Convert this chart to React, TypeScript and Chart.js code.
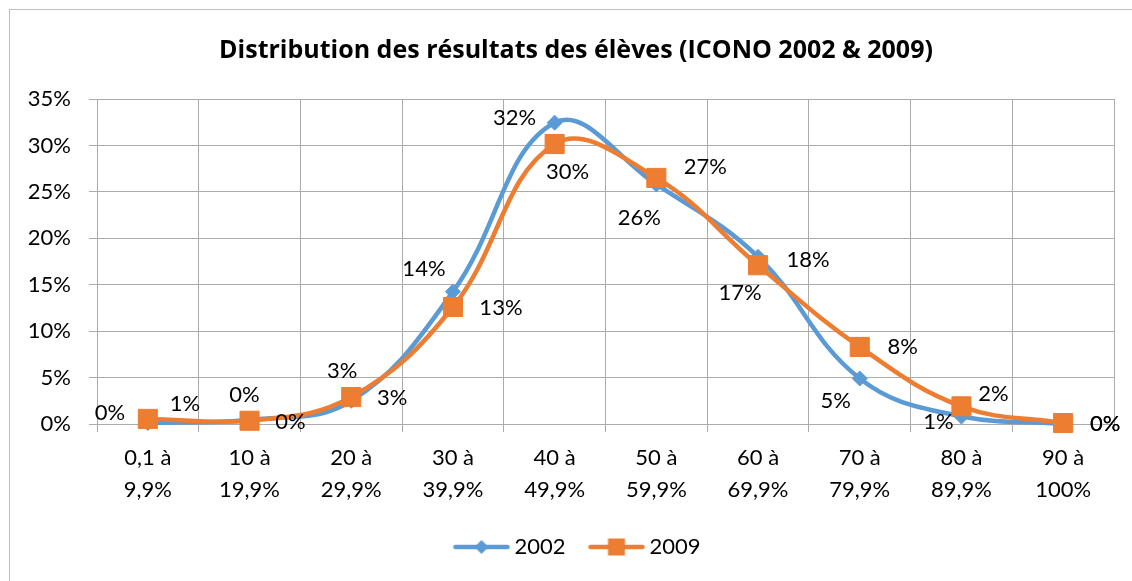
import React, { useEffect, useRef } from 'react';
import { Chart, registerables } from 'chart.js';

Chart.register(...registerables);

// ---------- data ----------
const CATEGORIES: string[][] = [
  ['0,1 à', '9,9%'],
  ['10 à', '19,9%'],
  ['20 à', '29,9%'],
  ['30 à', '39,9%'],
  ['40 à', '49,9%'],
  ['50 à', '59,9%'],
  ['60 à', '69,9%'],
  ['70 à', '79,9%'],
  ['80 à', '89,9%'],
  ['90 à', '100%'],
];
const SERIES_NAMES = ['2002', '2009'];
const VALUES_2002 = [0.1, 0.45, 2.5, 14.25, 32.45, 25.8, 18.0, 4.9, 0.8, 0.0];
const VALUES_2009 = [0.55, 0.35, 2.9, 12.6, 30.15, 26.5, 17.1, 8.3, 1.9, 0.1];
const Y_TICKS = [0, 5, 10, 15, 20, 25, 30, 35];
const TITLE = 'Distribution des résultats des élèves (ICONO 2002 & 2009)';

// ---------- style ----------
const FONT = 'Lato, "Open Sans", sans-serif';
const TITLE_FONT = '"Open Sans", Lato, sans-serif';
const BLUE = '#5B9BD5';
const ORANGE = '#ED7D31';
const GRID = '#ABABAB';
// data-label offsets from each point (pixels), per series
const LABEL_OFFSETS: number[][][] = [
  [[-38, -10], [-5, -25], [-9, -30], [-29, -23], [-40, -5], [-17, 33], [50, 3], [-24, 22], [-23, 5], [42, 0]],
  [[37, -15], [41, 1], [41, 1], [48, 1], [13, 28], [49, -11], [-18, 28], [43, 0], [32, -12], [42, 1]],
];

function makeLegendIcon(color: string, shape: 'diamond' | 'square'): HTMLCanvasElement {
  const c = document.createElement('canvas');
  c.width = 58;
  c.height = 22;
  const g = c.getContext('2d')!;
  g.strokeStyle = color;
  g.lineWidth = 4.5;
  g.lineCap = 'round';
  g.beginPath();
  g.moveTo(3, 11);
  g.lineTo(55, 11);
  g.stroke();
  g.fillStyle = color;
  if (shape === 'diamond') {
    g.beginPath();
    g.moveTo(29, 4);
    g.lineTo(36, 11);
    g.lineTo(29, 18);
    g.lineTo(22, 11);
    g.closePath();
    g.fill();
  } else {
    g.fillRect(29 - 8.5, 11 - 8.5, 17, 17);
  }
  return c;
}

const dataLabelPlugin = {
  id: 'excelDataLabels',
  afterDatasetsDraw(chart: any) {
    const ctx = chart.ctx;
    ctx.save();
    ctx.font = `22px ${FONT}`;
    ctx.fillStyle = '#000';
    ctx.textAlign = 'center';
    ctx.textBaseline = 'middle';
    chart.data.datasets.forEach((ds: any, di: number) => {
      const meta = chart.getDatasetMeta(di);
      meta.data.forEach((pt: any, i: number) => {
        const off = LABEL_OFFSETS[di][i];
        ctx.fillText(Math.round(ds.data[i]) + '%', pt.x + off[0], pt.y + off[1]);
      });
    });
    ctx.restore();
  },
};

// nudge the legend block slightly right, as in the reference
const legendNudgePlugin = {
  id: 'legendNudge',
  afterLayout(chart: any) {
    if (chart.legend) {
      chart.legend.left += 4;
      chart.legend.right += 4;
    }
  },
};

export default function App() {
  const canvasRef = useRef<HTMLCanvasElement | null>(null);

  useEffect(() => {
    if (!canvasRef.current) return;
    const icons = [makeLegendIcon(BLUE, 'diamond'), makeLegendIcon(ORANGE, 'square')];
    const chart = new Chart(canvasRef.current, {
      type: 'line',
      data: {
        labels: CATEGORIES,
        datasets: [
          {
            label: SERIES_NAMES[0],
            data: VALUES_2002,
            borderColor: BLUE,
            backgroundColor: BLUE,
            borderWidth: 4.5,
            tension: 0.4,
            pointStyle: 'rectRot',
            pointRadius: 7.5,
            pointBorderWidth: 1,
            pointBackgroundColor: BLUE,
            pointBorderColor: BLUE,
            clip: false,
            order: 1,
            yAxisID: 'y',
          },
          {
            label: SERIES_NAMES[1],
            data: VALUES_2009,
            borderColor: ORANGE,
            backgroundColor: ORANGE,
            borderWidth: 4.5,
            tension: 0.4,
            pointStyle: 'rect',
            pointRadius: 13.5,
            pointBorderWidth: 1,
            pointBackgroundColor: ORANGE,
            pointBorderColor: ORANGE,
            clip: false,
            order: 0,
            yAxisID: 'y',
          },
        ],
      },
      options: {
        responsive: false,
        animation: false,
        layout: { padding: { left: 10, right: 8, top: 0, bottom: 13 } },
        plugins: {
          title: {
            display: true,
            text: TITLE,
            color: '#000',
            font: { family: TITLE_FONT, size: 25, weight: 'bold', lineHeight: 1.2 },
            padding: { top: 35.5, bottom: 33.5 },
          },
          legend: {
            display: true,
            position: 'bottom',
            labels: {
              usePointStyle: true,
              pointStyleWidth: 44,
              padding: 29,
              color: '#000',
              font: { family: FONT, size: 22 },
              generateLabels: () =>
                SERIES_NAMES.map((name, i) => ({
                  text: name,
                  pointStyle: icons[i] as any,
                  fillStyle: i === 0 ? BLUE : ORANGE,
                  strokeStyle: i === 0 ? BLUE : ORANGE,
                  lineWidth: 0,
                  hidden: false,
                  datasetIndex: i,
                  fontColor: '#000',
                })),
            },
          },
          tooltip: { enabled: false },
        },
        scales: {
          x: {
            type: 'category',
            offset: true,
            grid: { offset: true, color: GRID, lineWidth: 1, tickLength: 8, drawTicks: true },
            border: { color: GRID, width: 1 },
            ticks: {
              color: '#000',
              font: { family: FONT, size: 22, lineHeight: 32 / 22 },
              padding: 10,
              maxRotation: 0,
              autoSkip: false,
            },
            afterFit: (scale: any) => {
              scale.height = 83;
            },
          },
          y: {
            position: 'left',
            min: 0,
            max: 35,
            grid: { color: GRID, lineWidth: 1, tickLength: 8, drawTicks: true },
            border: { color: GRID, width: 1 },
            ticks: {
              color: '#000',
              font: { family: FONT, size: 22 },
              padding: 18,
              callback: (v: any) => v + '%',
            },
            afterBuildTicks: (scale: any) => {
              scale.ticks = Y_TICKS.map((v) => ({ value: v }));
            },
            afterFit: (scale: any) => {
              scale.width = 87;
            },
          },
          // empty right-hand spacer so the title and legend centre on the full chart box
          spacer: {
            type: 'linear',
            position: 'right',
            display: true,
            grid: { display: false, drawTicks: false },
            border: { display: false },
            ticks: { display: false },
            afterFit: (scale: any) => {
              scale.width = 28;
            },
          },
        },
      },
      plugins: [dataLabelPlugin, legendNudgePlugin],
    } as any);
    return () => chart.destroy();
  }, []);

  return (
    <div
      style={{
        position: 'fixed',
        left: 0,
        top: 0,
        width: 1132,
        height: 581,
        background: '#fff',
        overflow: 'hidden',
      }}
    >
      <div
        style={{
          position: 'absolute',
          left: 9,
          top: 9,
          width: 1200,
          height: 700,
          border: '1px solid #BFBFBF',
          boxSizing: 'border-box',
        }}
      />
      <canvas
        ref={canvasRef}
        width={1150}
        height={581}
        style={{ position: 'absolute', left: 0, top: 0, width: 1150, height: 581 }}
      />
    </div>
  );
}
